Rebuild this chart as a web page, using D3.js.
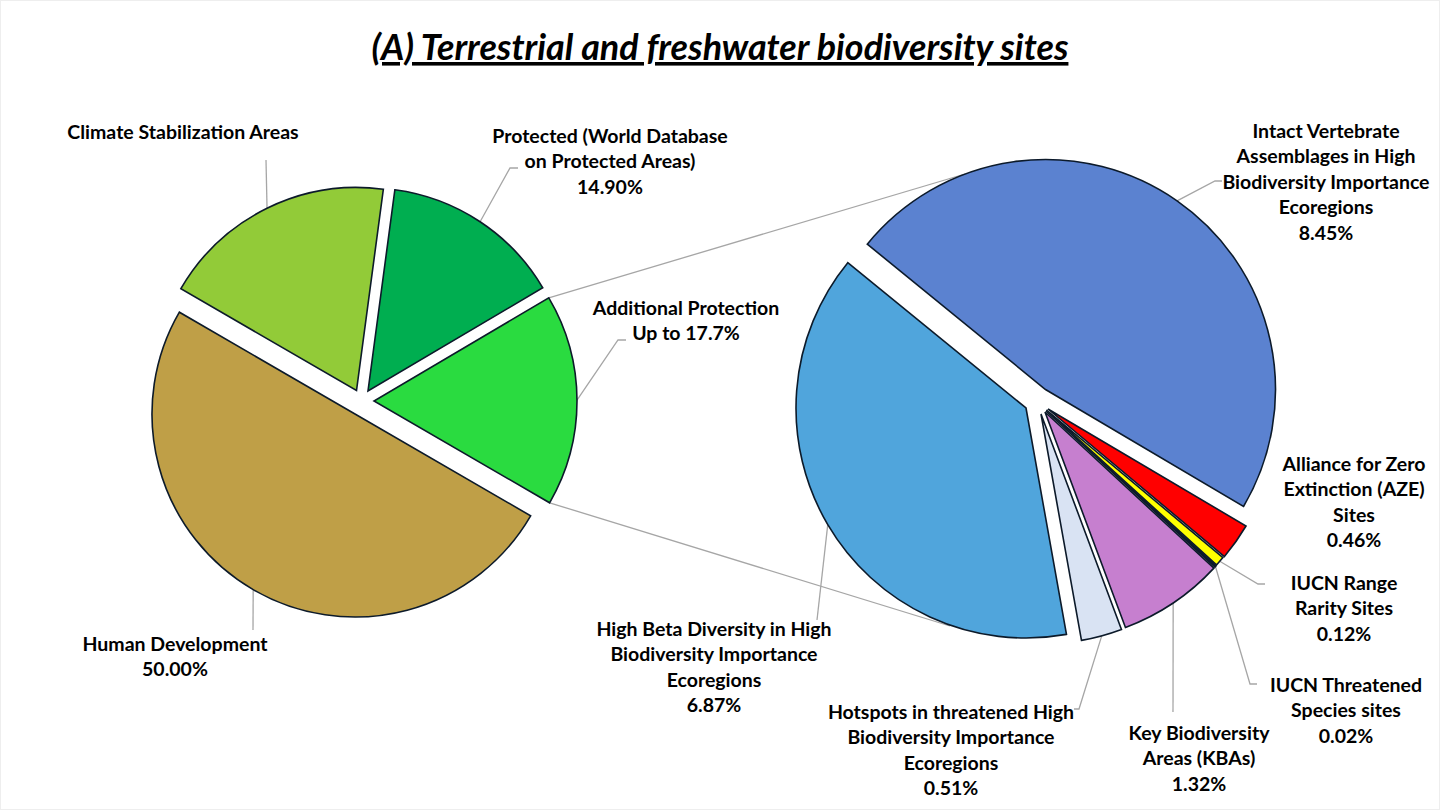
<!DOCTYPE html>
<html>
  <head>
    <meta charset="utf-8" />
    <style type="text/css">
      html, body { margin: 0; padding: 0; background: #fff }
      svg { display: block }
      text { font-family: Lato, "Open Sans", sans-serif; font-weight: 700; fill: #000 }
    </style>
    <script src="https://cdnjs.cloudflare.com/ajax/libs/d3/7.8.5/d3.min.js"></script>
  </head>
  <body>
    <svg id="chart" width="1440" height="810"></svg>
    <script>
      var titleText = "(A) Terrestrial and freshwater biodiversity sites";

      // left pie, shares (drawn sizes, not the printed labels)
      var leftNames = ["Protected", "Additional Protection", "Human Development", "Climate Stabilization Areas"];
      var leftShares = [14.4, 16.85, 50, 18.75];
      var leftColors = ["#00AE50", "#2ADB40", "#BF9F47", "#92CB38"];

      // right pie, printed percentages
      var rightNames = ["Intact Vertebrate", "AZE", "IUCN Range Rarity", "IUCN Threatened", "KBAs", "Hotspots", "High Beta Diversity"];
      var rightValues = [8.45, 0.46, 0.12, 0.02, 1.32, 0.51, 6.87];
      var rightColors = ["#5B82D0", "#FF0000", "#FFFF00", "#111111", "#C67FCF", "#D9E3F3", "#50A5DC"];

      var leftLabels = [
        ["Protected (World Database", "on Protected Areas)", "14.90%"],
        ["Additional Protection", "Up to 17.7%"],
        ["Human Development", "50.00%"],
        ["Climate Stabilization Areas"]
      ];
      var rightLabels = [
        ["Intact Vertebrate", "Assemblages in High", "Biodiversity Importance", "Ecoregions", "8.45%"],
        ["Alliance for Zero", "Extinction (AZE)", "Sites", "0.46%"],
        ["IUCN Range", "Rarity Sites", "0.12%"],
        ["IUCN Threatened", "Species sites", "0.02%"],
        ["Key Biodiversity", "Areas (KBAs)", "1.32%"],
        ["Hotspots in threatened High", "Biodiversity Importance", "Ecoregions", "0.51%"],
        ["High Beta Diversity in High", "Biodiversity Importance", "Ecoregions", "6.87%"]
      ];

      // layout
      var svg = d3.select("#chart");
      var deg = Math.PI / 180;
      var lineStep = 25.5;
      var labelSize = 19.5;

      var leftPie = {
        cx: 362, cy: 399, r: 203, start: 7.6,
        shift: [[6, -8], [12, 2], [-7, 15], [-5.5, -8.5]],
        labelAt: [[610, 136], [686, 308], [175, 644], [183, 132]],
        elbows: [[[510, 168], [518, 168]], [[618, 340], [626, 340]], [[253, 630]], [[266, 160]]]
      };
      var rightPie = {
        cx: 1038, cy: 403, r: 230, start: 309.2,
        shift: [[7.5, -13.5], [10, 6], [8.5, 7], [8, 8], [7, 9], [3, 11], [-12, 5]],
        labelAt: [[1326, 131], [1354, 464], [1344, 583], [1346, 685], [1199, 733], [951, 712], [714, 629]],
        elbows: [[[1215, 181], [1222, 181]], null, [[1258, 584], [1265, 584]], [[1250, 684], [1257, 684]],
                 [[1173, 712]], [[1079, 709], [1074, 709]], [[817, 620]]]
      };

      var frame = svg.append("rect")
        .attr("x", 0.5).attr("y", 0.5).attr("width", 1439).attr("height", 809)
        .attr("fill", "none").attr("stroke", "#eeeeee");

      var linkLayer = svg.append("g");

      var pointOn = function(p, i, angle) {
        return [p.cx + p.shift[i][0] + p.r * Math.sin(angle),
                p.cy + p.shift[i][1] - p.r * Math.cos(angle)];
      };

      var drawPie = function(p, values, colors, labels) {
        var slices = d3.pie().sort(null)
          .startAngle(p.start * deg)
          .endAngle((p.start + 360) * deg)(values);
        var arc = d3.arc().innerRadius(0).outerRadius(p.r);

        svg.append("g").selectAll("path")
          .data(slices)
          .enter()
          .append("path")
          .attr("d", arc)
          .attr("transform", function(d, i) {
            return "translate(" + (p.cx + p.shift[i][0]) + "," + (p.cy + p.shift[i][1]) + ")";
          })
          .attr("fill", function(d, i) { return colors[i]; })
          .attr("stroke", "#0c1a2a")
          .attr("stroke-width", 1.6)
          .attr("stroke-linejoin", "miter");

        // leader lines leave from the middle of each slice's arc
        var line = d3.line();
        slices.forEach(function(d, i) {
          if (!p.elbows[i]) return;
          var mid = (d.startAngle + d.endAngle) / 2;
          linkLayer.append("path")
            .attr("d", line([pointOn(p, i, mid)].concat(p.elbows[i])))
            .attr("fill", "none")
            .attr("stroke", "#a6a6a6")
            .attr("stroke-width", 1.3);
        });

        labels.forEach(function(lines, i) {
          svg.append("g").selectAll("text")
            .data(lines)
            .enter()
            .append("text")
            .attr("x", p.labelAt[i][0])
            .attr("y", function(d, k) { return p.labelAt[i][1] + k * lineStep; })
            .attr("dy", "0.35em")
            .attr("text-anchor", "middle")
            .attr("font-size", labelSize)
            .text(function(d) { return d; });
        });

        return slices;
      };

      var left = drawPie(leftPie, leftShares, leftColors, leftLabels);
      drawPie(rightPie, rightValues, rightColors, rightLabels);

      // the two lines joining the Additional Protection slice to the second pie
      var extra = left[1];
      [[extra.startAngle, [965, 174]], [extra.endAngle, [950, 626]]].forEach(function(c) {
        linkLayer.append("path")
          .attr("d", d3.line()([pointOn(leftPie, 1, c[0]), c[1]]))
          .attr("stroke", "#a6a6a6")
          .attr("stroke-width", 1.3);
      });

      svg.append("text")
        .attr("x", 720)
        .attr("y", 60)
        .attr("text-anchor", "middle")
        .attr("font-size", 35.9)
        .style("font-style", "italic")
        .style("text-decoration", "underline")
        .style("text-decoration-skip-ink", "none")
        .text(titleText);
    </script>
  </body>
</html>
